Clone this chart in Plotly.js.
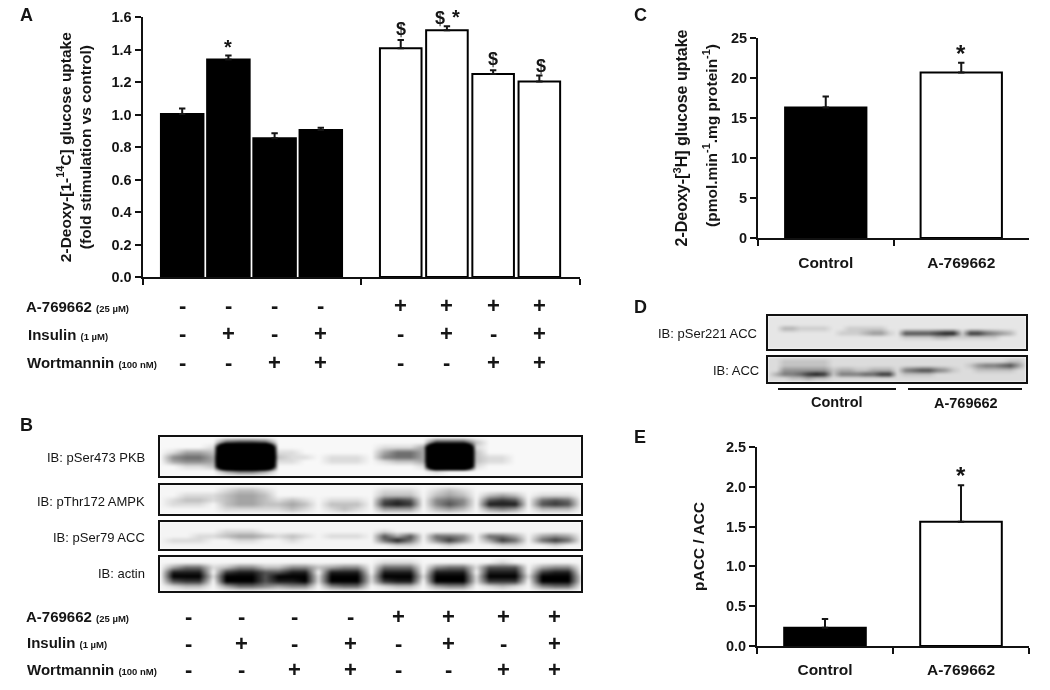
<!DOCTYPE html>
<html>
<head>
<meta charset="utf-8">
<script src="https://cdn.plot.ly/plotly-3.0.1.min.js"></script>
<style>
html,body{margin:0;padding:0;background:#fff}
#plot{width:1050px;height:690px;filter:blur(0.4px)}
#plot .heatmaplayer image{filter:blur(1.3px)}
</style>
</head>
<body>
<div id="plot"></div>
<script>
// ---------- data ----------
const lanesControl = [0,1,2,3];
const lanesDrug = [4.73,5.73,6.73,7.73];
const upControl = [1.005,1.34,0.855,0.905];
const upControlErr = [0.033,0.024,0.03,0.014];
const upDrug = [1.41,1.52,1.25,1.205];
const upDrugErr = [0.05,0.025,0.024,0.036];
const a769 = ['-','-','-','-','+','+','+','+'];
const insulin = ['-','+','-','+','-','+','-','+'];
const wortmannin = ['-','-','+','+','-','-','+','+'];
const groups = ['Control','A-769662'];
const uptakeC = [16.3,20.7];
const uptakeCErr = [1.4,1.2];
const paccE = [0.23,1.56];
const paccEErr = [0.11,0.46];
const ticksA = [0,0.2,0.4,0.6,0.8,1.0,1.2,1.4,1.6];

// blot densitometry read by eye, digit 0 = background, 9 = saturated
const blotPKB = [
"0 0000 0000 0000 0000 0000 0000 0000 0000",
"0 0000 6776 0000 0000 0000 7772 0000 0000",
"0 0001 9999 0000 0000 1113 9991 0000 0000",
"0 1332 9999 1100 0000 3553 9992 0000 0000",
"0 4553 9999 2110 1110 4553 9992 1100 0000",
"0 3443 9999 1100 1110 1223 9992 1100 0000",
"0 0112 9999 0000 0000 0001 9991 0000 0000",
"0 0000 3553 0000 0000 0000 1000 0000 0000",
"0 0000 0000 0000 0000 0000 0000 0000 0000"];
const blotAMPK = [
"0 0000 0000 0000 0000 0000 0000 0000 0000",
"0 0000 1221 0000 0000 1110 1210 0000 0000",
"0 0111 2332 0000 0000 2220 2320 2320 1110",
"0 1221 2332 1210 1110 6760 4540 6760 5650",
"0 1110 2332 2320 2220 7870 4640 8880 6760",
"0 0000 1111 1210 1210 3330 2320 3430 2220",
"0 0000 0000 0000 0000 0000 0000 0000 0000"];
const blotACC = [
"0 0000 0000 0000 0000 0000 0000 0000 0000",
"0 0000 0000 0000 0000 0000 0000 0000 0000",
"0 0000 1110 0000 0000 1000 0000 0000 0000",
"0 0011 2332 1210 1110 6360 5540 5530 3430",
"0 1110 0110 0100 0000 5850 4740 3750 5750",
"0 0000 0000 0000 0000 0110 0100 0110 0100",
"0 0000 0000 0000 0000 0000 0000 0000 0000"];
const blotActin = [
"0 0000 0000 0000 0000 0000 0000 0000 0000",
"0 0000 0000 0000 0000 1110 0000 0100 0000",
"0 3551 2442 2442 3440 5550 4551 6660 3440",
"0 8880 7886 6880 8880 8880 8880 8880 7880",
"0 9991 9996 9991 9991 9991 9991 9991 9991",
"0 6770 9996 8891 9991 7880 9991 7770 9991",
"0 1220 3554 3440 4550 1220 3440 1210 4550",
"0 0000 0000 0000 0000 0000 0000 0000 0000"];
const blotPS221 = [
"00000000000 00000000000 00000000000",
"00000000000 00000000000 00000000000",
"00000000000 00000000000 00000000000",
"00221111001 11110000000 00000000000",
"00000000011 12331066667 88177543200",
"00000000000 00000011112 21111110000",
"00000000000 00000000000 00000000000",
"00000000000 00000000000 00000000000",
"00000000000 00000000000 00000000000"];
const blotTotalACC = [
"00000000000 00000000000 00000000000",
"00111111000 00000000000 00000000110",
"00111111000 00000000000 00013445630",
"00333333122 11222045664 31001111100",
"02445787144 45577011110 00000000000",
"00011211000 00000000000 00000000000",
"00000000000 00000000000 00000000000"];
const laneCols = [2.2,6.2,10.2,14.5,18.1,21.9,26.1,30];

// ---------- helpers ----------
const W=1050,H=690;
const FF='"Liberation Sans", Arial, sans-serif';
const ink='#151515';
const hd=(a,b)=>[a/W,b/W];
const vd=(t,b)=>[1-b/H,1-t/H];
const bold=(s,c)=>({family:FF,size:s,color:c||ink,weight:700});
const annotations=[],shapes=[];
function txt(text,x,y,o){annotations.push(Object.assign({text,x:x/W,y:1-y/H,xref:'paper',yref:'paper',showarrow:false,xanchor:'center',yanchor:'middle',font:bold(15)},o||{}));}
const small=s=>`<span style="font-size:9.5px">${s}</span>`;

const xAll=lanesControl.concat(lanesDrug);
function pmRows(cols,xs,xref,ys){
  cols.forEach((col,r)=>col.forEach((c,i)=>{
    annotations.push({text:c,x:xs[i],xref,y:1-ys[r]/H,yref:'paper',showarrow:false,xanchor:'center',yanchor:'middle',font:bold(22)});
  }));
}
function sig(list,xref,yref){list.forEach(([t,x,y,s])=>annotations.push({text:t,x,y,xref,yref,showarrow:false,xanchor:'center',yanchor:'middle',font:bold(s)}));}

const traces=[];
const errStyle=(arr)=>({type:'data',symmetric:false,array:arr,arrayminus:arr.map(()=>0),color:ink,thickness:2,width:3.2});
function bar(x,y,err,col,xa,ya,w){
  traces.push({type:'bar',x,y,width:w,xaxis:xa,yaxis:ya,error_y:errStyle(err),hoverinfo:'x+y',
    marker:{color:col,line:{color:'#000',width:2}},showlegend:false});
}
bar(lanesControl,upControl,upControlErr,'#000','x','y',0.92);
bar(lanesDrug,upDrug,upDrugErr,'#fff','x','y',0.9);
bar(groups,uptakeC,uptakeCErr,['#000','#fff'],'x2','y2',0.6);
bar(groups,paccE,paccEErr,['#000','#fff'],'x3','y3',0.6);

const layout={width:W,height:H,margin:{l:0,r:0,t:0,b:0},paper_bgcolor:'#fff',plot_bgcolor:'rgba(0,0,0,0)',showlegend:false,barmode:'overlay',annotations,shapes};

const axBase={showgrid:false,zeroline:false,showline:true,linecolor:'#111',linewidth:2,ticks:'outside',tickcolor:'#111',tickwidth:2,ticklen:6};
layout.xaxis=Object.assign({},axBase,{domain:hd(142.5,580),range:[-0.859,8.61],anchor:'y',tickmode:'array',tickvals:[-0.859,3.87,8.61],showticklabels:false});
layout.yaxis=Object.assign({},axBase,{domain:vd(17.3,277),range:[0,1.6],anchor:'x',tickmode:'array',tickvals:ticksA,ticktext:ticksA.map(v=>v.toFixed(1)),tickfont:bold(14.5),
  title:{text:'2-Deoxy-[1-<sup>14</sup>C] glucose uptake<br>(fold stimulation vs control)',font:bold(15.5),standoff:16}});
const xCat=(dom,ya,st)=>Object.assign({},axBase,{domain:dom,anchor:ya,type:'category',categoryorder:'array',categoryarray:groups,range:[-0.5,1.5],tickson:'boundaries',tickfont:bold(15.5),ticklabelstandoff:st});
layout.xaxis2=xCat(hd(758,1029),'y2',9);
layout.yaxis2=Object.assign({},axBase,{domain:vd(38,238),range:[0,25],anchor:'x2',dtick:5,tickfont:bold(14.5),
  title:{text:'2-Deoxy-[<sup>3</sup>H] glucose uptake',font:bold(16),standoff:39}});
layout.xaxis3=xCat(hd(757,1029),'y3',8);
layout.yaxis3=Object.assign({},axBase,{domain:vd(447,646),range:[0,2.5],anchor:'x3',dtick:0.5,tickformat:'.1f',tickfont:bold(14.5),
  title:{text:'pACC / ACC',font:bold(15.5),standoff:18}});

// ---------- blots ----------
function blot(n,rows,x0,x1,y0,y1,bg,full){
  const z=rows.map(r=>r.replace(/ /g,'').split('').map(c=>{const d=+c;return d===9?full:d/9;}));
  const cols=z[0].length;
  traces.push({type:'heatmap',z,x:z[0].map((_,i)=>i),y:z.map((_,i)=>i),xaxis:'x'+n,yaxis:'y'+n,zsmooth:'best',zmin:0,zmax:1,showscale:false,hoverinfo:'skip',
    colorscale:[[0,bg],[1,'#000']]});
  const frame={showgrid:false,zeroline:false,showline:true,mirror:true,linecolor:'#111',linewidth:2,ticks:'',showticklabels:false};
  layout['xaxis'+n]=Object.assign({},frame,{domain:hd(x0,x1),range:[0,cols-1],anchor:'y'+n});
  layout['yaxis'+n]=Object.assign({},frame,{domain:vd(y0,y1),range:[rows.length-1,0],anchor:'x'+n});
}
blot(4,blotPKB,160,581,437,476,'#f8f8f8',3);
blot(5,blotAMPK,160,581,485,514,'#f6f6f6',1);
blot(6,blotACC,160,581,522,549,'#f4f4f4',1);
blot(7,blotActin,160,581,557,591,'#f6f6f6',1);
blot(8,blotPS221,768,1026,316,349,'#e6e6e6',1);
blot(9,blotTotalACC,768,1026,357,382,'#dcdcdc',1);

// ---------- text ----------
[['A',26,15],['B',26,425],['C',640,15],['D',640,307],['E',640,437]].forEach(([t,x,y])=>txt(t,x,y,{font:bold(18)}));

const rowLab=(name,conc,x,y)=>txt(name+' '+small(conc),x,y,{xanchor:'left'});
rowLab('A-769662','(25 µM)',24,306);
rowLab('Insulin','(1 µM)',26,334);
rowLab('Wortmannin','(100 nM)',25,362);
pmRows([a769,insulin,wortmannin],xAll,'x',[305,333,362]);

rowLab('A-769662','(25 µM)',24,616);
rowLab('Insulin','(1 µM)',25,642);
rowLab('Wortmannin','(100 nM)',25,669);
pmRows([a769,insulin,wortmannin],laneCols,'x7',[616,643,669]);

const reg=(s)=>({family:FF,size:s,color:ink});
[['IB: pSer473 PKB',147,457],['IB: pThr172 AMPK',147,501],['IB: pSer79 ACC',147,537],['IB: actin',147,573],
 ['IB: pSer221 ACC',759,333],['IB: ACC',761,370]].forEach(([t,x,y])=>txt(t,x,y,{xanchor:'right',font:reg(13)}));

txt('(pmol.min<sup>-1</sup>.mg protein<sup>-1</sup>)',710,136,{textangle:-90,font:bold(15.5)});

txt(groups[0],837,402,{font:bold(14.5)});
txt(groups[1],966,403,{font:bold(14.5)});
[[778,896],[908,1022]].forEach(([a,b])=>shapes.push({type:'line',xref:'paper',yref:'paper',x0:a/W,x1:b/W,y0:1-389/H,y1:1-389/H,line:{color:'#111',width:2}}));

sig([['*',1,1.42,20],['$',lanesDrug[0],1.525,18],['$',lanesDrug[2],1.345,18],['$',7.76,1.3,18]],'x','y');
// the pair above the tallest bar sits beyond the top of the axis range, so it is placed against the page height
sig([['$',5.58,1-17.5/H,18],['*',5.92,1-17/H,20]],'x','paper');
sig([['*',groups[1],23.1,24]],'x2','y2');
sig([['*',groups[1],2.14,24]],'x3','y3');

Plotly.newPlot('plot',traces,layout,{staticPlot:true,displayModeBar:false});
</script>
</body>
</html>
